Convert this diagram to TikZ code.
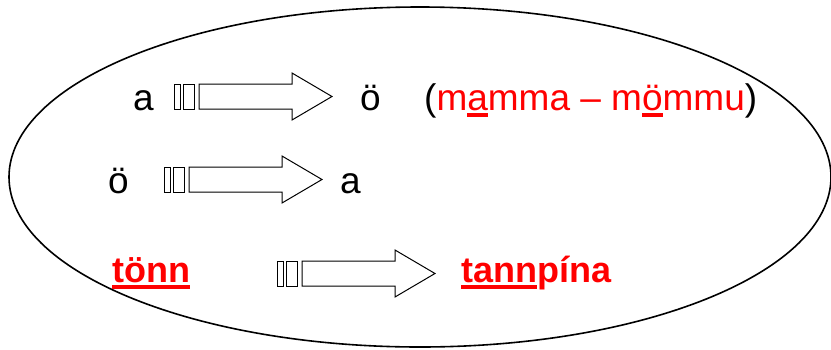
\documentclass[tikz,border=0pt]{standalone}
\usepackage{fontspec}
\setmainfont{Liberation Sans}
\usetikzlibrary{positioning}
\newcommand\redbar[1]{\setbox0\hbox{#1}\rlap{\color{red}\rule[-6.5pt]{\wd0}{3.5pt}}\box0}

\begin{document}
\begin{tikzpicture}[x=1pt, y=-1pt,
txt/.style={anchor=base west, inner sep=0pt, font=\fontsize{37}{41}\selectfont},
hot/.style={txt, text=red, font=\fontsize{36}{40}\selectfont\bfseries},
blk/.style={draw, line width=1pt, fill=white, line join=miter},
ring/.style={draw, line width=1.6pt},
pics/stripedarrow/.style={code={
 \draw[blk] (0,0) rectangle (6,25);
 \draw[blk] (9,0) rectangle (20,25);
 \draw[blk] (25,0) -- (118,0) -- (118,-11) -- (158,12.5) -- (118,36) -- (118,25) -- (25,25) -- cycle;
}}]

\useasboundingbox (0,0) rectangle (831,349);
\draw[ring] (420,177) ellipse [x radius=411pt, y radius=170pt];

\node[txt] (a1) at (133,110) {a};
\node[txt] (o1) at (360,110) {ö};
\node[txt] (ex) at (424,110) {(\textcolor{red}{m\redbar{a}mma – m\redbar{ö}mmu})};
\node[txt] (o2) at (108,193) {ö};
\node[txt] (a2) at (340,193) {a};
\node[hot] (ton) at (112,282) {\redbar{tönn}};
\node[hot] (tan) at (461,282) {\redbar{tann}pína};
\foreach \px/\py in {174/84,164/167,277/261}{\pic at (\px,\py) {stripedarrow};}
\end{tikzpicture}
\end{document}
